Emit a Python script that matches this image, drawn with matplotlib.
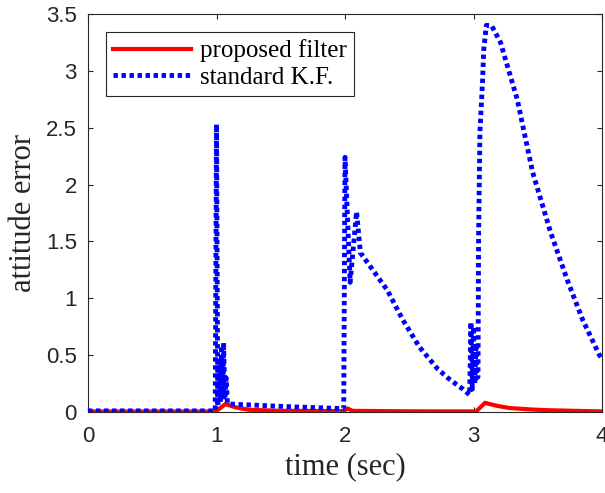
import matplotlib
matplotlib.use("Agg")
import matplotlib.pyplot as plt

# ---- data ----
t_blue = [0.0, 0.5, 0.99, 1.0, 1.01, 1.02, 1.03, 1.04, 1.05, 1.055, 1.065, 1.075, 1.085,
          1.1, 1.3, 1.6, 1.99, 2.0, 2.04, 2.09, 2.12, 2.19, 2.33, 2.45, 2.58, 2.72, 2.80,
          2.87, 2.92, 2.97, 2.98, 2.99, 3.0, 3.01, 3.02, 3.025, 3.035, 3.04, 3.05, 3.07,
          3.08, 3.10, 3.14, 3.21, 3.34, 3.46, 3.60, 3.73, 3.85, 3.98, 4.0]
v_blue = [0.01, 0.01, 0.01, 2.53, 0.05, 0.45, 0.08, 0.55, 0.10, 0.61, 0.12, 0.30, 0.08,
          0.07, 0.06, 0.045, 0.03, 2.24, 1.14, 1.76, 1.40, 1.29, 1.07, 0.81, 0.57, 0.38, 0.30,
          0.24, 0.20, 0.15, 0.79, 0.20, 0.75, 0.25, 0.60, 0.30, 0.31, 1.58, 2.46, 2.90,
          3.19, 3.40, 3.40, 3.25, 2.75, 2.11, 1.58, 1.16, 0.81, 0.50, 0.47]

t_red = [0.0, 0.99, 1.0, 1.07, 1.15, 1.25, 1.5, 1.99, 2.02, 2.06, 2.5, 3.02, 3.09,
         3.18, 3.28, 3.45, 3.6, 4.0]
v_red = [0.005, 0.005, 0.01, 0.07, 0.04, 0.02, 0.01, 0.008, 0.03, 0.01, 0.006, 0.005, 0.08,
         0.055, 0.035, 0.022, 0.015, 0.005]

labels = ["proposed filter", "standard K.F."]
x_ticks = [0, 1, 2, 3, 4]
y_ticks = [0, 0.5, 1, 1.5, 2, 2.5, 3, 3.5]
y_tick_labels = ["0", "0.5", "1", "1.5", "2", "2.5", "3", "3.5"]

# ---- figure ----
W, H = 605, 493
fig = plt.figure(figsize=(W / 100, H / 100), dpi=100)
ax = fig.add_axes([88 / W, 1 - 412 / H, (602 - 88) / W, (412 - 14) / H])

ax.plot(t_red, v_red, color="#ff0000", lw=3.0, solid_joinstyle="miter", label=labels[0], zorder=2)
ax.plot(t_blue, v_blue, color="#0000ff", lw=3.5, linestyle=(0, (0.9, 0.75)),
        label=labels[1], zorder=3)

ax.set_xlim(0, 4)
ax.set_ylim(0, 3.5)
ax.set_xticks(x_ticks)
ax.set_xticklabels([str(v) for v in x_ticks])
ax.set_yticks(y_ticks)
ax.set_yticklabels(y_tick_labels)

axcol = "#262626"
for s in ax.spines.values():
    s.set_color(axcol)
    s.set_linewidth(0.8)
ax.tick_params(direction="in", length=3.5, width=0.8, colors=axcol, top=True, right=True,
               labelsize=16)
ax.tick_params(axis="x", pad=10)
ax.tick_params(axis="y", pad=8)
for lab in ax.get_xticklabels() + ax.get_yticklabels():
    lab.set_family("Liberation Sans")

ax.set_xlabel("time (sec)", family="Liberation Serif", fontsize=22, color=axcol, labelpad=4)
ax.set_ylabel("attitude error", family="Liberation Serif", fontsize=22, color=axcol, labelpad=6)

leg = ax.legend(loc="upper left", bbox_to_anchor=(0.035, 0.955), prop={"family": "Liberation Serif", "size": 18},
                frameon=True, fancybox=False, framealpha=1, edgecolor=axcol,
                handlelength=3.1, handletextpad=0.35, borderpad=0.3, labelspacing=0.15,
                borderaxespad=0)
leg.get_frame().set_linewidth(0.8)

fig.savefig("out.png", dpi=100)
